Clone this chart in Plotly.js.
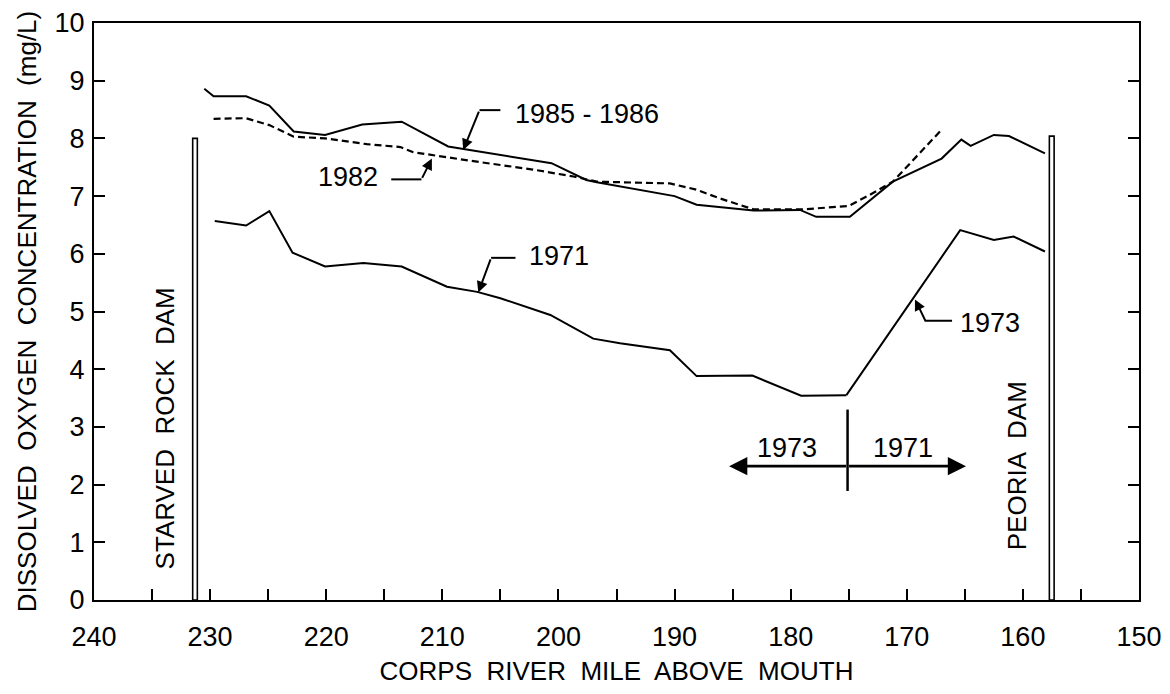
<!DOCTYPE html>
<html>
<head>
<meta charset="utf-8">
<script src="https://cdn.plot.ly/plotly-3.0.1.min.js"></script>
<style>html,body{margin:0;padding:0;background:#fff;}#chart{width:1170px;height:694px;}</style>
</head>
<body>
<div id="chart"></div>
<script>
// River mile (x) and dissolved oxygen mg/L (y)
const mile_1985 = [230.5, 229.7, 226.9, 224.9, 222.8, 220.1, 216.9, 213.5, 209.5, 200.6, 197.6, 196.7, 190.0, 188.1, 183.2, 179.2, 177.8, 174.9, 171.2, 167.0, 165.3, 164.5, 162.5, 161.2, 158.1];
const do_1985   = [8.86, 8.73, 8.73, 8.57, 8.12, 8.06, 8.24, 8.29, 7.86, 7.57, 7.28, 7.24, 7.00, 6.85, 6.75, 6.76, 6.64, 6.64, 7.25, 7.65, 7.98, 7.87, 8.06, 8.04, 7.74];

const mile_1982 = [229.7, 226.9, 224.9, 222.8, 220.1, 216.5, 213.6, 212.5, 206.8, 202.2, 198.7, 196.7, 190.4, 188.1, 186.1, 183.2, 178.9, 175.0, 173.2, 171.2, 167.0];
const do_1982   = [8.34, 8.35, 8.23, 8.03, 8.00, 7.90, 7.85, 7.76, 7.59, 7.46, 7.34, 7.25, 7.22, 7.11, 6.96, 6.77, 6.77, 6.83, 7.02, 7.25, 8.15];

const mile_1971 = [229.6, 226.9, 224.9, 222.9, 220.1, 216.8, 213.5, 209.6, 207.0, 205.0, 200.7, 197.0, 194.7, 190.4, 188.1, 183.3, 179.1, 175.2];
const do_1971   = [6.57, 6.49, 6.74, 6.02, 5.78, 5.84, 5.78, 5.43, 5.34, 5.23, 4.94, 4.53, 4.45, 4.33, 3.88, 3.89, 3.54, 3.55];

const mile_1973 = [175.2, 165.4, 162.5, 160.8, 158.1];
const do_1973   = [3.55, 6.41, 6.24, 6.30, 6.04];

const xTickVals = [240,235,230,225,220,215,210,205,200,195,190,185,180,175,170,165,160,155,150];
const xTickText = ['240','','230','','220','','210','','200','','190','','180','','170','','160','','150'];

const FONT = '"Liberation Sans", Arial, Helvetica, sans-serif';
const lineStyle = {color: '#000', width: 2};

const traces = [
  {x: mile_1985, y: do_1985, mode: 'lines', name: '1985 - 1986', line: lineStyle},
  {x: mile_1982, y: do_1982, mode: 'lines', name: '1982', line: {color: '#000', width: 2.2, dash: '7px,4px'}},
  {x: mile_1971, y: do_1971, mode: 'lines', name: '1971', line: lineStyle},
  {x: mile_1973, y: do_1973, mode: 'lines', name: '1973', line: lineStyle}
];

function leader(pts) {
  return {type: 'path', xref: 'x', yref: 'y', layer: 'above',
    path: 'M ' + pts.map(p => p[0] + ',' + p[1]).join(' L '),
    line: {color: '#000', width: 2}};
}
function arrow(tip, from, size) {
  return {x: tip[0], y: tip[1], ax: from[0], ay: from[1], xref: 'x', yref: 'y', axref: 'x', ayref: 'y',
    text: '', showarrow: true, arrowhead: 2, arrowsize: size || 1.1, arrowwidth: 2, arrowcolor: '#000'};
}
function label(txt, x, y, anchor, angle, size) {
  return {x: x, y: y, xref: 'x', yref: 'y', text: txt, showarrow: false, xanchor: anchor || 'center', yanchor: 'middle',
    textangle: angle || 0, font: {family: FONT, size: size || 27, color: '#000'}};
}

const layout = {
  width: 1170, height: 694,
  margin: {l: 94, r: 31, t: 23, b: 94},
  paper_bgcolor: '#fff', plot_bgcolor: '#fff',
  showlegend: false,
  font: {family: FONT, color: '#000'},
  xaxis: {
    range: [240, 150], tickvals: xTickVals, ticktext: xTickText,
    ticks: 'inside', ticklen: 11, tickwidth: 2, tickcolor: '#000',
    showline: true, linewidth: 2, linecolor: '#000', mirror: true,
    showgrid: false, zeroline: false, ticklabelstandoff: 12,
    tickfont: {family: FONT, size: 27, color: '#000'},
    title: {text: 'CORPS  RIVER  MILE  ABOVE  MOUTH', font: {family: FONT, size: 26, color: '#000'}, standoff: 10}
  },
  yaxis: {
    range: [0, 10], dtick: 1,
    ticks: 'inside', ticklen: 11, tickwidth: 2, tickcolor: '#000',
    showline: true, linewidth: 2, linecolor: '#000', mirror: 'ticks',
    showgrid: false, zeroline: false, ticklabelstandoff: 2,
    tickfont: {family: FONT, size: 27, color: '#000'},
    title: {text: 'DISSOLVED  OXYGEN  CONCENTRATION  (mg/L)', font: {family: FONT, size: 26, color: '#000'}, standoff: 10}
  },
  shapes: [
    {type: 'rect', xref: 'x', yref: 'y', x0: 231.5, x1: 231.1, y0: 0, y1: 8.0, line: {color: '#000', width: 1.6}, fillcolor: '#fff', layer: 'above'},
    {type: 'rect', xref: 'x', yref: 'y', x0: 157.72, x1: 157.31, y0: 0, y1: 8.04, line: {color: '#000', width: 1.6}, fillcolor: '#fff', layer: 'above'},
    leader([[205.0, 8.49], [206.8, 8.49]]),
    leader([[214.4, 7.29], [211.8, 7.29]]),
    leader([[203.7, 5.93], [205.8, 5.93]]),
    leader([[166.1, 4.84], [168.4, 4.84], [168.9, 5.05]]),
    {type: 'line', xref: 'x', yref: 'y', x0: 175.1, x1: 175.1, y0: 1.89, y1: 3.30, line: {color: '#000', width: 2.5}}
  ],
  annotations: [
    label('1985 - 1986', 203.9, 8.42, 'left'),
    arrow([208.2, 7.80], [206.8, 8.49]),
    label('1982', 218.1, 7.33, 'center'),
    arrow([210.9, 7.65], [211.8, 7.29]),
    label('1971', 202.7, 5.97, 'left'),
    arrow([206.9, 5.33], [205.8, 5.93]),
    label('1973', 165.6, 4.80, 'left'),
    arrow([169.3, 5.21], [168.9, 5.05]),
    label('1973', 180.3, 2.64, 'center'),
    label('1971', 170.3, 2.64, 'center'),
    {x: 185.3, y: 2.32, ax: 175.1, ay: 2.32, xref: 'x', yref: 'y', axref: 'x', ayref: 'y', text: '', showarrow: true, arrowhead: 2, arrowsize: 1.3, arrowwidth: 2.8, arrowcolor: '#000'},
    {x: 164.9, y: 2.32, ax: 175.1, ay: 2.32, xref: 'x', yref: 'y', axref: 'x', ayref: 'y', text: '', showarrow: true, arrowhead: 2, arrowsize: 1.3, arrowwidth: 2.8, arrowcolor: '#000'},
    label('STARVED  ROCK  DAM', 233.85, 2.98, 'center', -90, 26),
    label('PEORIA  DAM', 160.5, 2.32, 'center', -90, 26)
  ]
};

Plotly.newPlot('chart', traces, layout, {displayModeBar: false, staticPlot: true});
</script>
</body>
</html>
